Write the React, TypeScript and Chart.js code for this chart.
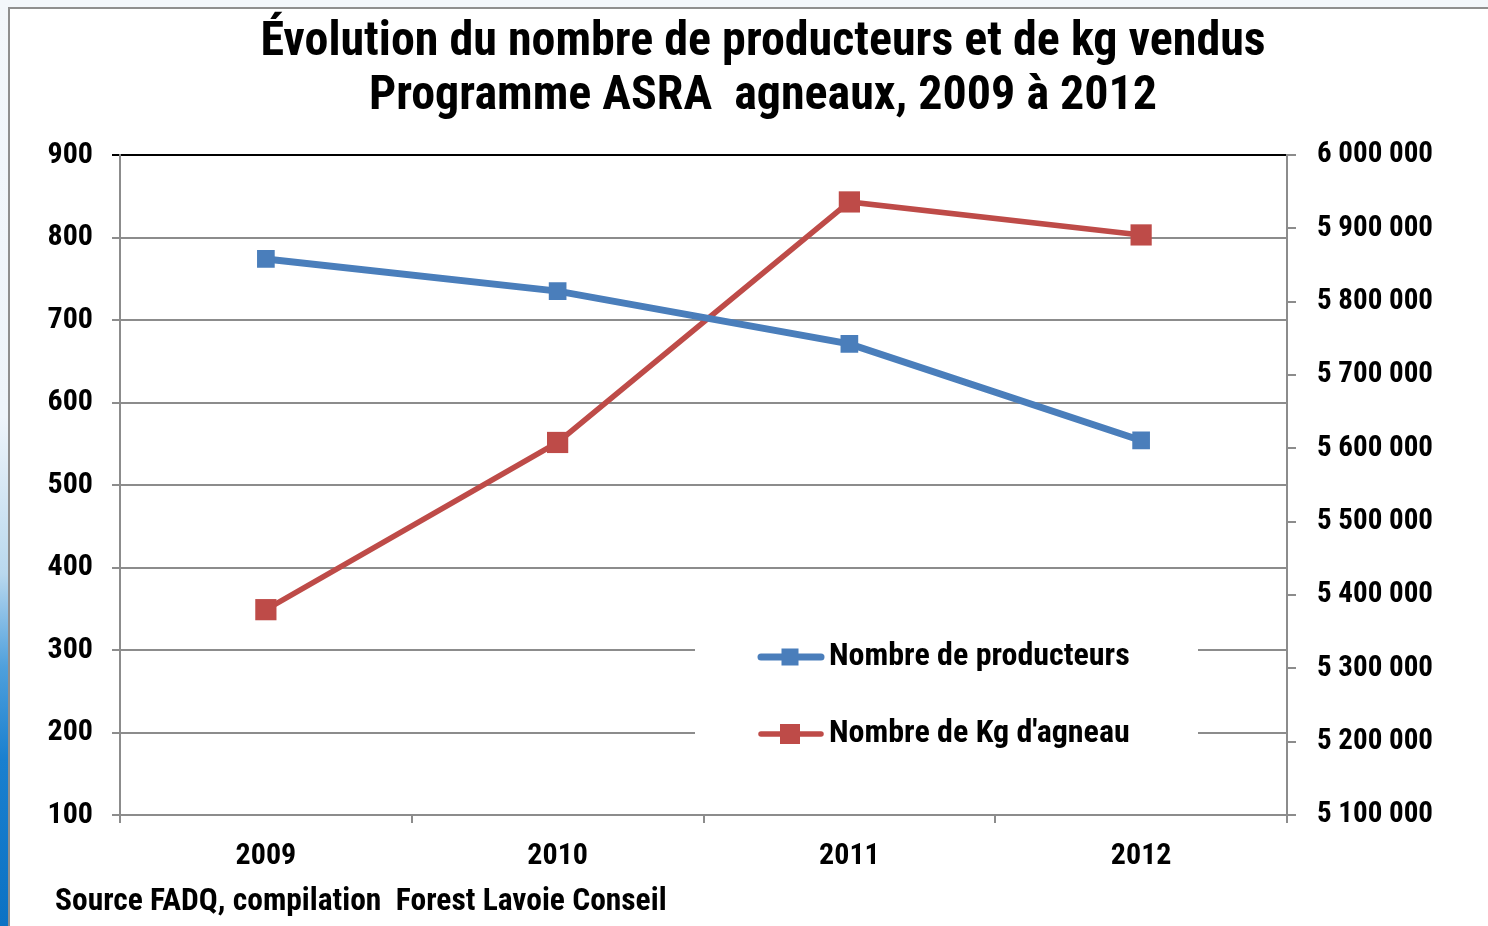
import React, { useEffect, useRef } from "react";
import { Chart, registerables } from "chart.js";

Chart.register(...registerables);

const TITLE_LINES = [
  "Évolution du nombre de producteurs et de kg vendus",
  "Programme ASRA  agneaux, 2009 à 2012",
];
const SOURCE_TEXT = "Source FADQ, compilation  Forest Lavoie Conseil";
const YEARS = ["2009", "2010", "2011", "2012"];
const SERIES_LABELS = ["Nombre de producteurs", "Nombre de Kg d'agneau"];
const PRODUCTEURS = [774, 735, 671, 554];
const KG_AGNEAU = [5380000, 5608000, 5936000, 5891000];
const LEFT_AXIS = { min: 100, max: 900, step: 100 };
const RIGHT_AXIS = { min: 5100000, max: 6000000, step: 100000 };

const BLUE = "#4A7EBB";
const RED = "#BE4B48";
const GRID = "#8C8C8C";
const FONT =
  "'Liberation Sans Narrow', 'Arial Narrow', 'Roboto Condensed', 'Liberation Sans', sans-serif";

const fmtSpace = (v: number) =>
  String(Math.round(v)).replace(/\B(?=(\d{3})+(?!\d))/g, " ");

const extrasPlugin = {
  id: "extras",
  afterDraw(chart: any) {
    const ctx = chart.ctx;
    ctx.save();
    // legend inside plot
    ctx.fillStyle = "#ffffff";
    ctx.fillRect(695, 605, 503, 185);
    const items = chart.data.datasets.map((ds: any, i: number) => ({
      label: ds.label,
      color: ds.borderColor,
      lw: ds.borderWidth,
      side: i === 0 ? 17 : 20,
      y: i === 0 ? 657 : 734,
    }));
    items.forEach((it: any) => {
      ctx.strokeStyle = it.color;
      ctx.lineWidth = it.lw;
      ctx.lineCap = "round";
      ctx.beginPath();
      ctx.moveTo(761, it.y);
      ctx.lineTo(821, it.y);
      ctx.stroke();
      ctx.fillStyle = it.color;
      ctx.fillRect(790 - it.side / 2, it.y - it.side / 2, it.side, it.side);
      ctx.fillStyle = "#000";
      ctx.font = `bold 32px ${FONT}`;
      ctx.textBaseline = "middle";
      ctx.textAlign = "left";
      ctx.fillText(it.label, 829, it.y);
    });
    // source
    ctx.fillStyle = "#000";
    ctx.font = `bold 31.5px ${FONT}`;
    ctx.textBaseline = "middle";
    ctx.textAlign = "left";
    ctx.fillText(SOURCE_TEXT, 55, 902);
    ctx.restore();
  },
};

export default function App() {
  const ref = useRef<HTMLCanvasElement | null>(null);

  useEffect(() => {
    if (!ref.current) return;
    const tickFont = { family: FONT, size: 30, weight: "bold" as const };
    const chart = new Chart(ref.current, {
      type: "line",
      data: {
        labels: YEARS,
        datasets: [
          {
            label: SERIES_LABELS[0],
            data: PRODUCTEURS,
            yAxisID: "y",
            borderColor: BLUE,
            backgroundColor: BLUE,
            borderWidth: 7,
            pointStyle: "rect",
            pointRadius: 12.5,
            pointBorderWidth: 0,
            pointBackgroundColor: BLUE,
            tension: 0,
          },
          {
            label: SERIES_LABELS[1],
            data: KG_AGNEAU,
            yAxisID: "y1",
            borderColor: RED,
            backgroundColor: RED,
            borderWidth: 5.5,
            pointStyle: "rect",
            pointRadius: 15,
            pointBorderWidth: 0,
            pointBackgroundColor: RED,
            tension: 0,
          },
        ],
      },
      options: {
        animation: false,
        responsive: false,
        maintainAspectRatio: false,
        layout: { padding: { left: 38, right: 0, top: 0, bottom: 0 } },
        plugins: {
          legend: { display: false },
          tooltip: { enabled: false },
          title: {
            display: true,
            text: TITLE_LINES,
            color: "#000",
            font: { family: FONT, size: 48, weight: "bold", lineHeight: 1.125 },
            padding: { top: 16, bottom: 31 },
          },
        },
        scales: {
          x: {
            type: "category",
            offset: true,
            afterFit: (s: any) => {
              s.height = 111;
            },
            grid: {
              offset: true,
              drawOnChartArea: false,
              drawTicks: true,
              tickLength: 8,
              color: GRID,
              lineWidth: 2,
            },
            border: { display: true, color: GRID, width: 2 },
            ticks: { color: "#000", font: tickFont, padding: 15, maxRotation: 0 },
          },
          y: {
            type: "linear",
            position: "left",
            min: LEFT_AXIS.min,
            max: LEFT_AXIS.max,
            afterFit: (s: any) => {
              s.width = 82;
            },
            grid: {
              color: (c: any) => (c.tick && c.tick.value === LEFT_AXIS.max ? "#000" : GRID),
              lineWidth: 2,
              tickLength: 8,
            },
            border: { display: true, color: GRID, width: 2 },
            ticks: {
              stepSize: LEFT_AXIS.step,
              color: "#000",
              font: tickFont,
              padding: 19,
            },
          },
          y1: {
            type: "linear",
            position: "right",
            min: RIGHT_AXIS.min,
            max: RIGHT_AXIS.max,
            afterFit: (s: any) => {
              s.width = 201;
            },
            grid: {
              drawOnChartArea: false,
              color: GRID,
              lineWidth: 2,
              tickLength: 9,
            },
            border: { display: true, color: GRID, width: 2 },
            ticks: {
              stepSize: RIGHT_AXIS.step,
              color: "#000",
              font: { family: FONT, size: 29, weight: "bold" as const },
              padding: 21,
              callback: (v: any) => fmtSpace(Number(v)),
            },
          },
        },
      },
      plugins: [extrasPlugin],
    });
    return () => chart.destroy();
  }, []);

  return (
    <div
      style={{
        position: "fixed",
        left: 0,
        top: 0,
        width: 1488,
        height: 926,
        overflow: "hidden",
        background: "#f3f7fb",
      }}
    >
      <div
        style={{
          position: "absolute",
          left: 0,
          top: 0,
          width: 8,
          height: 926,
          background:
            "linear-gradient(to bottom, #f3f7fb 0%, #eef4fa 45%, #b9d8ee 62%, #4fa0dc 72%, #1a80cf 82%, #0b72c4 100%)",
        }}
      />
      <div
        style={{
          position: "absolute",
          left: 8,
          top: 7,
          width: 1490,
          height: 930,
          background: "#ffffff",
          borderLeft: "2px solid #8f8f8f",
          borderTop: "2px solid #8f8f8f",
        }}
      />
      <canvas
        ref={ref}
        width={1488}
        height={926}
        style={{ position: "absolute", left: 0, top: 0, width: 1488, height: 926 }}
      />
    </div>
  );
}
